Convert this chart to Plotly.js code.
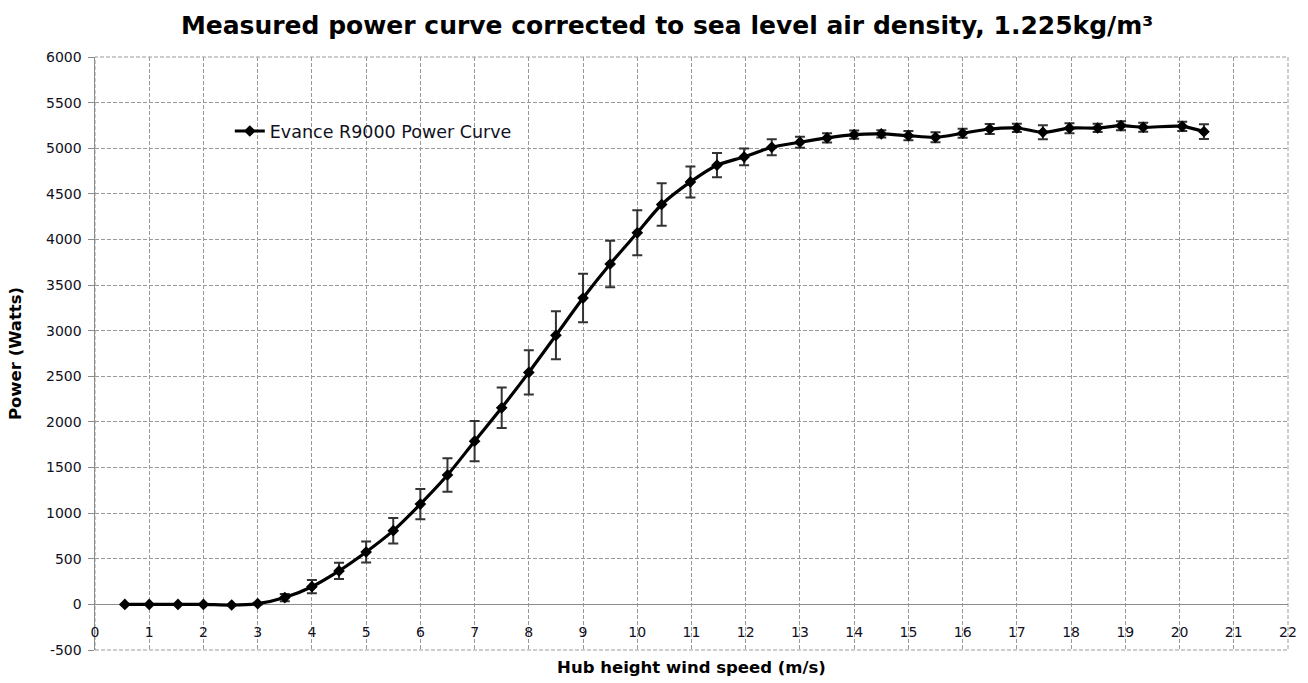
<!DOCTYPE html>
<html>
<head>
<meta charset="utf-8">
<script src="https://cdn.plot.ly/plotly-3.0.1.min.js"></script>
<style>html,body{margin:0;padding:0;background:#fff;}#chart{width:1308px;height:683px;}</style>
</head>
<body>
<div id="chart"></div>
<script>
const windSpeed = [0.55,1.0,1.53,2.0,2.52,3.0,3.5,4.0,4.5,5.0,5.5,6.0,6.5,7.0,7.5,8.0,8.5,9.0,9.5,10.0,10.45,10.98,11.47,11.97,12.48,13.0,13.5,14.0,14.5,15.0,15.5,16.0,16.5,17.0,17.48,17.97,18.49,18.92,19.33,20.05,20.45];
const power = [0,0,0,0,-7,8,75,194,367,574,808,1099,1418,1789,2155,2543,2949,3358,3731,4073,4383,4631,4814,4905,5011,5066,5113,5149,5157,5138,5120,5164,5211,5222,5175,5220,5222,5247,5230,5240,5182];
const powerErr = [0,0,0,0,0,10,40,73,88,114,140,166,184,221,221,243,263,265,255,246,233,170,133,91,88,60,50,45,40,50,55,50,55,45,77,55,45,50,50,50,80];
const xTicks = [0,1,2,3,4,5,6,7,8,9,10,11,12,13,14,15,16,17,18,19,20,21,22];
const yTicks = [-500,0,500,1000,1500,2000,2500,3000,3500,4000,4500,5000,5500,6000];
const seriesName = 'Evance R9000 Power Curve';
const titleText = 'Measured power curve corrected to sea level air density, 1.225kg/m³';
const xTitle = 'Hub height wind speed (m/s)';
const yTitle = 'Power (Watts)';

const textColor = '#111122';
const gridColor = '#9a9a9a';
const axisColor = '#8c8c8c';

const trace = {
  x: windSpeed, y: power, name: seriesName,
  type: 'scatter', mode: 'lines+markers',
  line: {color: '#000', width: 3.2, shape: 'spline', smoothing: 0.8},
  marker: {symbol: 'diamond', size: 9, color: '#000'},
  error_y: {type: 'data', array: powerErr, visible: true, color: '#333', thickness: 2, width: 5}
};

const layout = {
  width: 1308, height: 683,
  margin: {l: 95, r: 20, t: 57, b: 33},
  paper_bgcolor: '#fff', plot_bgcolor: '#fff',
  font: {family: 'DejaVu Sans, sans-serif', color: textColor, size: 14},
  title: {text: titleText, font: {family: 'DejaVu Sans, sans-serif', size: 25, color: '#000', weight: 'bold'},
          x: 0.51, xanchor: 'center', y: 0.963, yanchor: 'middle'},
  showlegend: true,
  legend: {x: 0.113, y: 0.875, xanchor: 'left', yanchor: 'middle', bgcolor: 'rgba(0,0,0,0)',
           font: {size: 17.5, color: textColor}},
  xaxis: {
    range: [0, 22], tickvals: xTicks, ticktext: xTicks.map(String),
    anchor: 'free', position: 500/6500,
    showgrid: true, gridcolor: gridColor, griddash: '4px,2px', gridwidth: 1,
    showline: false, zeroline: false, ticks: '', ticklabelstandoff: 18,
    tickfont: {size: 14, color: textColor},
    title: {text: xTitle, font: {size: 16.5, weight: 'bold', color: '#000'}, standoff: 22}
  },
  yaxis: {
    range: [-500, 6000], tickvals: yTicks, ticktext: yTicks.map(String),
    showgrid: true, gridcolor: gridColor, griddash: '4px,2px', gridwidth: 1,
    showline: true, linecolor: axisColor, linewidth: 1.5,
    zeroline: true, zerolinecolor: axisColor, zerolinewidth: 1.5,
    ticks: 'outside', ticklen: 6, tickcolor: axisColor, ticklabelstandoff: 3,
    tickfont: {size: 14, color: textColor},
    title: {text: yTitle, font: {size: 16.5, weight: 'bold', color: '#000'}, standoff: 20}
  },
  shapes: [{type: 'rect', xref: 'paper', yref: 'paper', x0: 0, x1: 1, y0: 0, y1: 1,
            line: {color: gridColor, width: 1, dash: '4px,2px'}, layer: 'below'}]
};

Plotly.newPlot('chart', [trace], layout, {displayModeBar: false, staticPlot: true});
</script>
</body>
</html>
